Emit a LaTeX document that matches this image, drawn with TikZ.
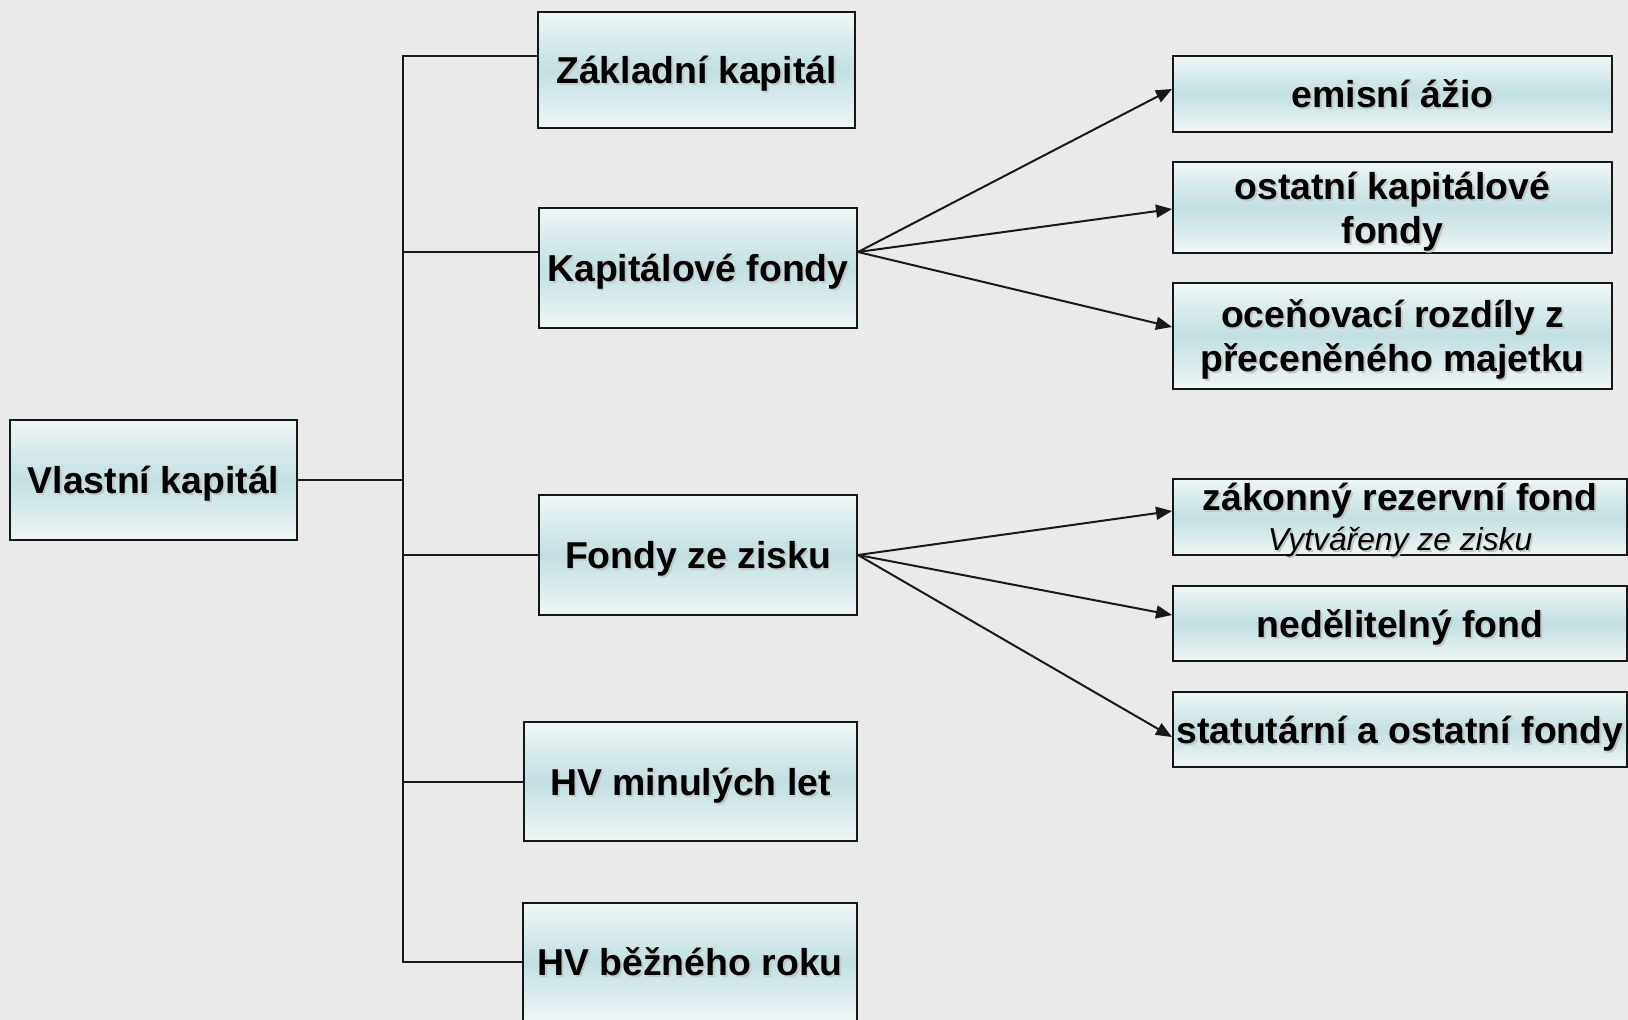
\documentclass[tikz,border=0pt]{standalone}
\usepackage{fontspec}
\setmainfont{Liberation Sans}
\usetikzlibrary{arrows.meta}
\definecolor{bg}{HTML}{EAEAEA}
\definecolor{boxlight}{HTML}{F0F6F6}
\definecolor{boxmid}{HTML}{C2DFE2}
\definecolor{edgecol}{HTML}{161616}
\newcommand\shtxt[1]{\leavevmode\rlap{\kern1.8pt\raisebox{-1.8pt}{\textcolor{black!22}{#1}}}#1}
\tikzset{
  box/.style={draw=edgecol, line width=2pt, top color=boxlight, bottom color=boxlight,
    middle color=boxmid, inner sep=0pt, align=center, text=black, text depth=0pt,
    font=\bfseries\fontsize{37.4}{44}\selectfont},
  link/.style={line width=2pt, draw=black!90},
  arr/.style={link, -{Triangle[length=16pt,width=13pt]}}
}
\begin{document}
\begin{tikzpicture}[x=1pt,y=-1pt]
\fill[bg] (0,0) rectangle (1628,1020);
\useasboundingbox (0,0) rectangle (1628,1020);
\clip (0,0) rectangle (1628,1020);

% left column
\node[box, minimum width=287pt, minimum height=120pt] (vk) at (153.5,480) {\shtxt{Vlastní kapitál}};
\node[box, minimum width=317pt, minimum height=116pt] (zk) at (696.5,70) {\shtxt{Základní kapitál}};
\node[box, minimum width=318pt, minimum height=120pt] (kf) at (698,268) {\shtxt{Kapitálové fondy}};
\node[box, minimum width=318pt, minimum height=120pt] (fz) at (698,555) {\shtxt{Fondy ze zisku}};
\node[box, minimum width=333pt, minimum height=119pt] (hvm) at (690.5,781.5) {\shtxt{HV minulých let}};
\node[box, minimum width=334pt, minimum height=118pt] (hvb) at (690,962) {\shtxt{HV běžného roku}};

% right column
\node[box, minimum width=439pt, minimum height=76pt] (ea) at (1392.5,94) {\shtxt{emisní ážio}};
\node[box, minimum width=439pt, minimum height=91pt] (okf) at (1392.5,207.5) {\shtxt{ostatní kapitálové}\\\shtxt{fondy}};
\node[box, minimum width=439pt, minimum height=106pt] (or) at (1392.5,336) {\shtxt{oceňovací rozdíly z}\\\shtxt{přeceněného majetku}};
\node[box, minimum width=454pt, minimum height=76pt] (zrf) at (1400,517) {\shtxt{zákonný rezervní fond}\\[-4pt]{\mdseries\itshape\fontsize{31.8}{35}\selectfont\shtxt{Vytvářeny ze zisku}}};
\node[box, minimum width=454pt, minimum height=75pt] (nf) at (1400,623.5) {\shtxt{nedělitelný fond}};
\node[box, minimum width=454pt, minimum height=75pt] (sof) at (1400,729.5) {\shtxt{statutární a ostatní fondy}};

% bracket
\coordinate (b1) at (403,56);
\coordinate (b2) at (403,252);
\coordinate (b3) at (403,555);
\coordinate (b4) at (403,781.5);
\coordinate (b5) at (403,962);
\draw[link] (b1 -| zk.west) -- (b1) -- (b5) -- (b5 -| hvb.west);
\draw[link] (vk.east) -- (vk.east -| b1);
\draw[link] (b2) -- (b2 -| kf.west);
\draw[link] (b3) -- (fz.west);
\draw[link] (b4) -- (hvm.west);

% arrows
\coordinate (ko) at (b2 -| kf.east);
\draw[arr] (ko) -- ([yshift=5pt]ea.west);
\draw[arr] (ko) -- ([yshift=-1.5pt]okf.west);
\draw[arr] (ko) -- ([yshift=9pt]or.west);
\draw[arr] (fz.east) -- ([yshift=6pt]zrf.west);
\draw[arr] (fz.east) -- ([yshift=8.5pt]nf.west);
\draw[arr] (fz.east) -- ([yshift=-7.5pt]sof.west);
\end{tikzpicture}
\end{document}
